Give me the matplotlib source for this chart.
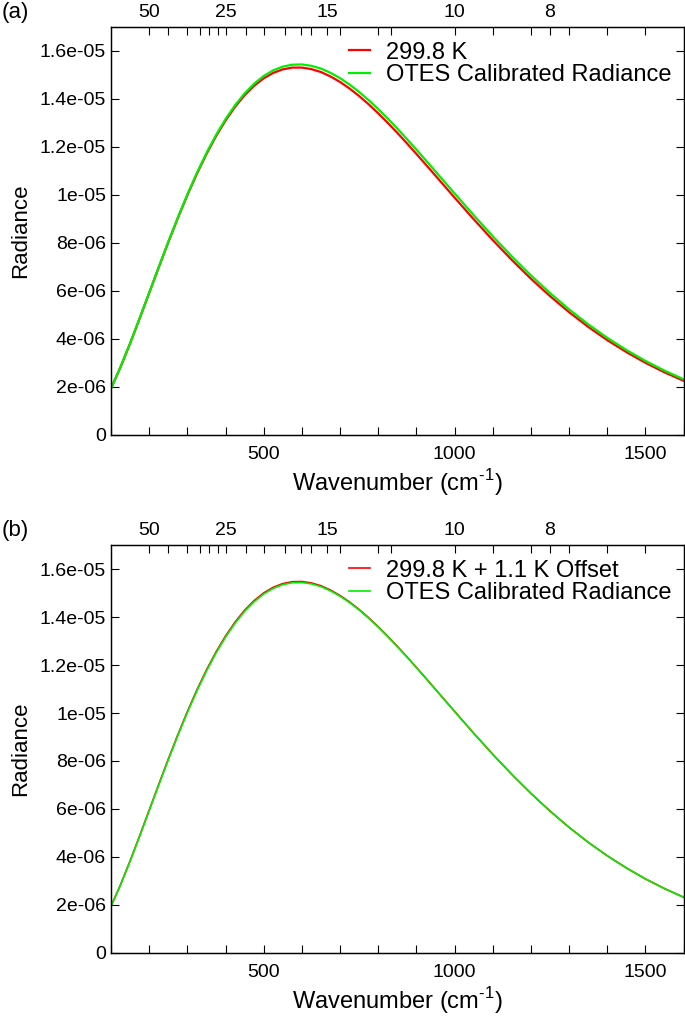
# Planck fit vs OTES calibrated radiance, two panels

import matplotlib
matplotlib.use('Agg')
import matplotlib.pyplot as plt

plt.rcParams['font.family'] = ['Liberation Sans', 'DejaVu Sans']
plt.rcParams['mathtext.fontset'] = 'custom'
plt.rcParams['mathtext.rm'] = 'Liberation Sans'

wavenumber = [100, 125, 150, 175, 200, 225, 250, 275, 300, 325, 350, 375, 400, 425, 450,
              475, 500, 525, 550, 575, 600, 625, 650, 675, 700, 725, 750, 775, 800, 825,
              850, 875, 900, 925, 950, 975, 1000, 1050, 1100, 1150, 1200, 1250, 1300, 1350,
              1400, 1450, 1500, 1550, 1600]

# radiances in units of 1e-6
# 299.8 K blackbody
bb_2998 = [1.934, 2.830, 3.813, 4.850, 5.913, 6.978, 8.023, 9.032, 9.987, 10.881, 11.701,
           12.443, 13.099, 13.671, 14.156, 14.550, 14.861, 15.087, 15.234, 15.307, 15.308,
           15.244, 15.122, 14.939, 14.709, 14.436, 14.124, 13.778, 13.404, 13.006, 12.588,
           12.156, 11.712, 11.261, 10.805, 10.348, 9.892, 8.992, 8.121, 7.292, 6.511, 5.786,
           5.117, 4.506, 3.951, 3.454, 3.007, 2.610, 2.258]

# 299.8 K + 1.1 K offset
bb_3009 = [1.943, 2.844, 3.833, 4.877, 5.947, 7.020, 8.074, 9.091, 10.056, 10.960, 11.790,
           12.541, 13.207, 13.789, 14.283, 14.686, 15.005, 15.239, 15.393, 15.472, 15.480,
           15.420, 15.303, 15.124, 14.897, 14.626, 14.316, 13.971, 13.597, 13.198, 12.780,
           12.346, 11.900, 11.446, 10.988, 10.527, 10.068, 9.159, 8.279, 7.440, 6.649, 5.914,
           5.234, 4.613, 4.049, 3.542, 3.086, 2.681, 2.322]

otes = [1.936, 2.833, 3.818, 4.858, 5.924, 6.992, 8.042, 9.055, 10.017, 10.917, 11.745,
        12.494, 13.158, 13.739, 14.234, 14.637, 14.958, 15.193, 15.349, 15.429, 15.439,
        15.381, 15.267, 15.090, 14.867, 14.600, 14.293, 13.951, 13.579, 13.183, 12.767,
        12.335, 11.891, 11.439, 10.983, 10.523, 10.066, 9.159, 8.279, 7.440, 6.649, 5.914,
        5.234, 4.613, 4.049, 3.542, 3.086, 2.681, 2.322]

# top axis: wavelength in microns
um_major = [50, 25, 15, 10, 8]
um_minor = [40, 33.3, 30, 28, 26.3, 22, 20, 18, 16.7, 16, 14.3, 12.5, 12,
            9.09, 8.33, 7.69, 7.14, 6.67]

yticks = [0, 2e-6, 4e-6, 6e-6, 8e-6, 1e-5, 1.2e-5, 1.4e-5, 1.6e-5]
yticklabels = ['0', '2e-06', '4e-06', '6e-06', '8e-06', '1e-05', '1.2e-05', '1.4e-05', '1.6e-05']


def panel(rect, model, model_label, letter, lw):
    ax = fig.add_axes(rect)
    ax.plot(wavenumber, [v * 1e-6 for v in model], color='#ff0000', lw=lw, label=model_label)
    ax.plot(wavenumber, [v * 1e-6 for v in otes], color='#00ee00', lw=lw,
            label='OTES Calibrated Radiance')
    ax.set_xlim(100, 1600)
    ax.set_ylim(0, 1.7e-5)
    ax.set_xticks([500, 1000, 1500])
    ax.set_xticks(range(100, 1601, 100), minor=True)
    ax.set_yticks(yticks)
    ax.set_yticklabels(yticklabels)
    ax.tick_params(axis='both', which='both', direction='in', length=6, width=0.8,
                   labelsize=14, top=False, right=True)
    ax.tick_params(axis='x', pad=8)
    ax.set_xlabel('Wavenumber (cm$^{\\text{-1}}$)', fontsize=17, labelpad=3)
    ax.set_ylabel('Radiance', fontsize=16, labelpad=6)
    ax.legend(loc='upper right', bbox_to_anchor=(1.0, 0.993), frameon=False, fontsize=17,
              handlelength=0.9, handletextpad=0.7, labelspacing=0.02, borderaxespad=0.1)

    top = ax.twiny()
    top.set_xlim(100, 1600)
    top.set_xticks([1e4 / u for u in um_major])
    top.set_xticklabels([str(u) for u in um_major])
    top.set_xticks([1e4 / u for u in um_minor], minor=True)
    top.tick_params(axis='x', which='both', direction='in', length=6, width=0.8,
                    labelsize=14, pad=4)
    for a in (ax, top):
        for s in a.spines.values():
            s.set_linewidth(0.9)
    fig.text(0.003, rect[1] + rect[3] + 0.004, letter, fontsize=16, va='bottom')
    return ax


fig = plt.figure(figsize=(6.85, 10.18), dpi=100)
panel([0.162, 0.5727, 0.836, 0.4008], bb_2998, '299.8 K', '(a)', 1.6)
panel([0.162, 0.0639, 0.836, 0.4007], bb_3009, '299.8 K + 1.1 K Offset', '(b)', 1.2)

fig.savefig('out.png', dpi=100)
